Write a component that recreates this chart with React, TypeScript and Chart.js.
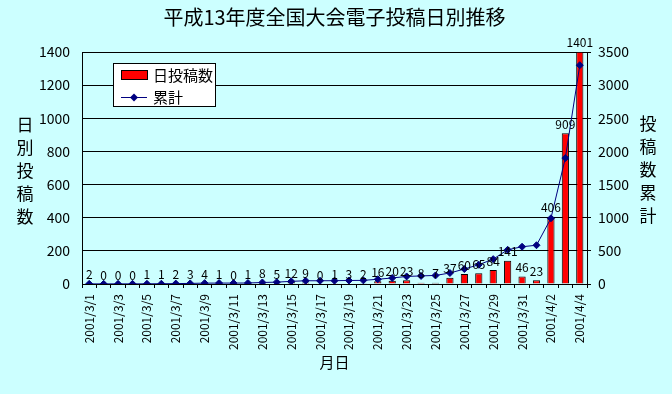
import React, { useEffect, useRef } from 'react';
import { Chart, registerables } from 'chart.js';

Chart.register(...registerables);

const FONT = '"Noto Sans CJK JP", "Noto Sans", sans-serif';

const chartTitle = '平成13年度全国大会電子投稿日別推移';
const leftAxisTitle = ['日', '別', '投', '稿', '数'];
const rightAxisTitle = ['投', '稿', '数', '累', '計'];
const xAxisTitle = '月日';
const legendLabels = ['日投稿数', '累計'];

const dates = [
  '2001/3/1', '2001/3/2', '2001/3/3', '2001/3/4', '2001/3/5', '2001/3/6', '2001/3/7',
  '2001/3/8', '2001/3/9', '2001/3/10', '2001/3/11', '2001/3/12', '2001/3/13', '2001/3/14',
  '2001/3/15', '2001/3/16', '2001/3/17', '2001/3/18', '2001/3/19', '2001/3/20', '2001/3/21',
  '2001/3/22', '2001/3/23', '2001/3/24', '2001/3/25', '2001/3/26', '2001/3/27', '2001/3/28',
  '2001/3/29', '2001/3/30', '2001/3/31', '2001/4/1', '2001/4/2', '2001/4/3', '2001/4/4',
];

const daily = [
  2, 0, 0, 0, 1, 1, 2, 3, 4, 1, 0, 1, 8, 5, 12, 9, 0, 1, 3, 2,
  16, 20, 23, 8, 7, 37, 60, 65, 84, 141, 46, 23, 406, 909, 1401,
];

const cumulative = [
  2, 2, 2, 2, 3, 4, 6, 9, 13, 14, 14, 15, 23, 28, 40, 49, 49, 50, 53, 55,
  71, 91, 114, 122, 129, 166, 226, 291, 375, 516, 562, 585, 991, 1900, 3301,
];

const leftMax = 1400;
const leftStep = 200;
const rightMax = 3500;
const rightStep = 500;

const BAR_COLOR = '#FF0000';
const LINE_COLOR = '#000080';

const overlayPlugin = {
  id: 'overlay',
  afterDatasetsDraw(chart: any) {
    const ctx = chart.ctx;
    const meta = chart.getDatasetMeta(0);
    ctx.save();
    ctx.font = `12px ${FONT}`;
    ctx.fillStyle = '#000';
    ctx.textAlign = 'center';
    ctx.textBaseline = 'bottom';
    meta.data.forEach((bar: any, i: number) => {
      ctx.fillText(String(daily[i]), bar.x, bar.y - 3);
    });
    ctx.restore();
  },
  afterDraw(chart: any) {
    const ctx = chart.ctx;
    const area = chart.chartArea;
    ctx.save();
    ctx.fillStyle = '#000';
    // main title
    ctx.font = `20px ${FONT}`;
    ctx.textAlign = 'center';
    ctx.textBaseline = 'middle';
    ctx.fillText(chartTitle, (area.left + area.right) / 2, 17);
    // vertical axis titles
    ctx.font = `17px ${FONT}`;
    leftAxisTitle.forEach((c, i) => ctx.fillText(c, 25, 125 + i * 23));
    rightAxisTitle.forEach((c, i) => ctx.fillText(c, 648, 124 + i * 23));
    // x axis title
    ctx.font = `15px ${FONT}`;
    ctx.fillText(xAxisTitle, (area.left + area.right) / 2, 362);
    // legend
    ctx.fillStyle = '#fff';
    ctx.fillRect(113.5, 63.5, 102, 43);
    ctx.strokeStyle = '#000';
    ctx.lineWidth = 1;
    ctx.strokeRect(113.5, 63.5, 102, 43);
    ctx.fillStyle = BAR_COLOR;
    ctx.fillRect(121.5, 70.5, 26, 9);
    ctx.strokeRect(121.5, 70.5, 26, 9);
    ctx.strokeStyle = LINE_COLOR;
    ctx.beginPath();
    ctx.moveTo(121, 97.5);
    ctx.lineTo(147, 97.5);
    ctx.stroke();
    ctx.fillStyle = LINE_COLOR;
    ctx.beginPath();
    ctx.moveTo(134, 93.5);
    ctx.lineTo(138, 97.5);
    ctx.lineTo(134, 101.5);
    ctx.lineTo(130, 97.5);
    ctx.closePath();
    ctx.fill();
    ctx.fillStyle = '#000';
    ctx.font = `15px ${FONT}`;
    ctx.textAlign = 'left';
    ctx.fillText(legendLabels[0], 153, 75.5);
    ctx.fillText(legendLabels[1], 153, 97.5);
    ctx.restore();
  },
};

export default function App() {
  const canvasRef = useRef<HTMLCanvasElement | null>(null);

  useEffect(() => {
    document.body.style.margin = '0';
    const canvas = canvasRef.current;
    if (!canvas) return;
    const chart = new Chart(canvas, {
      type: 'bar',
      data: {
        labels: dates,
        datasets: [
          {
            type: 'bar',
            label: legendLabels[0],
            data: daily,
            yAxisID: 'y',
            backgroundColor: BAR_COLOR,
            borderColor: '#000',
            borderWidth: 1,
            barPercentage: 0.5,
            categoryPercentage: 1,
            order: 1,
          },
          {
            type: 'line',
            label: legendLabels[1],
            data: cumulative,
            yAxisID: 'y1',
            borderColor: LINE_COLOR,
            borderWidth: 1,
            pointStyle: 'rectRot',
            pointRadius: 3.5,
            pointBackgroundColor: LINE_COLOR,
            pointBorderColor: LINE_COLOR,
            tension: 0,
            order: 0,
          },
        ],
      },
      options: {
        responsive: false,
        animation: false,
        devicePixelRatio: 1,
        layout: { padding: { top: 52, left: 0, right: 0, bottom: 0 } },
        plugins: {
          legend: { display: false },
          tooltip: { enabled: false },
          title: { display: false },
        },
        scales: {
          x: {
            offset: true,
            grid: {
              offset: true,
              drawOnChartArea: false,
              drawTicks: true,
              tickLength: 4,
              color: '#000',
            },
            border: { color: '#000' },
            ticks: {
              autoSkip: false,
              maxRotation: 90,
              minRotation: 90,
              padding: 6,
              color: '#000',
              font: { size: 12, family: FONT },
              callback: (_v: any, i: number) => (i % 2 === 0 ? dates[i] : ''),
            },
            afterFit: (s: any) => {
              s.height = 110;
            },
          },
          y: {
            position: 'left',
            min: 0,
            max: leftMax,
            grid: { color: '#000', drawTicks: false },
            border: { color: '#000' },
            ticks: {
              stepSize: leftStep,
              padding: 12,
              color: '#000',
              font: { size: 14, family: FONT },
              callback: (v: any) => String(v),
            },
            afterFit: (s: any) => {
              s.width = 82;
            },
          },
          y1: {
            position: 'right',
            min: 0,
            max: rightMax,
            grid: { drawOnChartArea: false, tickLength: 4, color: '#000' },
            border: { color: '#000' },
            ticks: {
              stepSize: rightStep,
              padding: 7,
              color: '#000',
              font: { size: 14, family: FONT },
              callback: (v: any) => String(v),
            },
            afterFit: (s: any) => {
              s.width = 85;
            },
          },
        },
      },
      plugins: [overlayPlugin],
    } as any);
    return () => chart.destroy();
  }, []);

  return (
    <div style={{ width: 672, height: 394, background: '#CCFFFF' }}>
      <canvas ref={canvasRef} width={672} height={394} style={{ display: 'block' }} />
    </div>
  );
}
